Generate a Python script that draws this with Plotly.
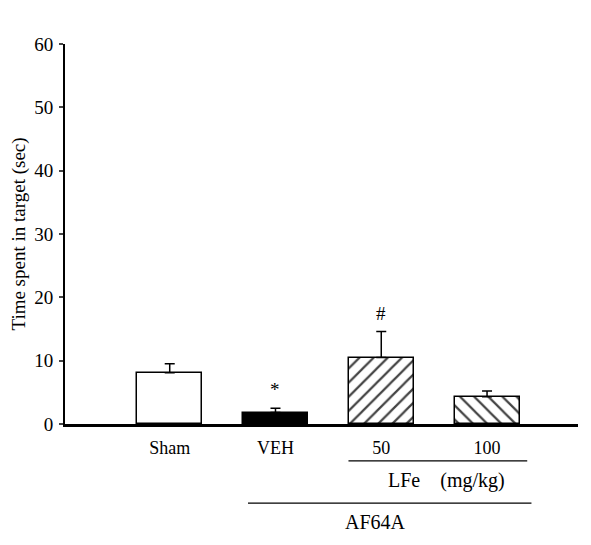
import plotly.graph_objects as go

groups = ["Sham", "VEH", "50", "100"]
means = [8.1, 1.8, 10.5, 4.3]
sems = [1.4, 0.7, 4.1, 0.9]
marks = ["", "*", "#", ""]
fills = ["white", "black", "white", "white"]
patterns = ["", "", "/", "\\"]
yticks = [0, 10, 20, 30, 40, 50, 60]

FONT = "Liberation Serif"
xs = list(range(len(groups)))

fig = go.Figure()
fig.add_trace(go.Bar(
    x=xs, y=means, width=0.615,
    marker=dict(color=fills, line=dict(color="black", width=1.5),
                pattern=dict(shape=patterns, fgcolor="black", bgcolor="white",
                             fgopacity=1, size=10, solidity=0.22)),
    error_y=dict(type="data", array=sems, arrayminus=[0]*4, symmetric=False,
                 color="black", thickness=1.5, width=5),
    showlegend=False,
))

for i, (m, s, t) in enumerate(zip(means, sems, marks)):
    if t:
        fig.add_annotation(x=i, y=m + s, text=t, showarrow=False, yanchor="bottom",
                           yshift=6, font=dict(family=FONT, size=19, color="black"))

# grouping brackets
fig.add_shape(type="line", xref="x", yref="paper", x0=2 - 0.31, x1=3 + 0.38,
              y0=-0.097, y1=-0.097, line=dict(color="black", width=1.3))
fig.add_annotation(xref="x", yref="paper", x=2.62, y=-0.15, yanchor="middle",
                   text="LFe    (mg/kg)", showarrow=False,
                   font=dict(family=FONT, size=20, color="black"))
fig.add_shape(type="line", xref="x", yref="paper", x0=1 - 0.26, x1=3 + 0.42,
              y0=-0.208, y1=-0.208, line=dict(color="black", width=1.3))
fig.add_annotation(xref="x", yref="paper", x=1.95, y=-0.258, yanchor="middle",
                   text="AF64A", showarrow=False,
                   font=dict(family=FONT, size=20, color="black"))

fig.update_layout(
    width=591, height=545,
    margin=dict(l=65, r=13, t=44, b=121),
    plot_bgcolor="white", paper_bgcolor="white",
    font=dict(family=FONT, color="black", size=16),
    bargap=0,
)
fig.update_xaxes(range=[-0.99, 3.86], tickvals=xs, ticktext=groups, ticks="",
                 showline=True, linecolor="black", linewidth=2.5, showgrid=False,
                 zeroline=False, tickfont=dict(family=FONT, size=18),
                 ticklabelstandoff=6)
fig.update_yaxes(range=[0, 60], tickvals=yticks, ticks="outside", ticklen=4,
                 tickwidth=1.5, showline=True, linecolor="black", linewidth=1.8,
                 showgrid=False, zeroline=False, tickfont=dict(family=FONT, size=19),
                 ticklabelstandoff=2,
                 title=dict(text="Time spent in target (sec)",
                            font=dict(family=FONT, size=19), standoff=4))

fig.write_html("out.html")
